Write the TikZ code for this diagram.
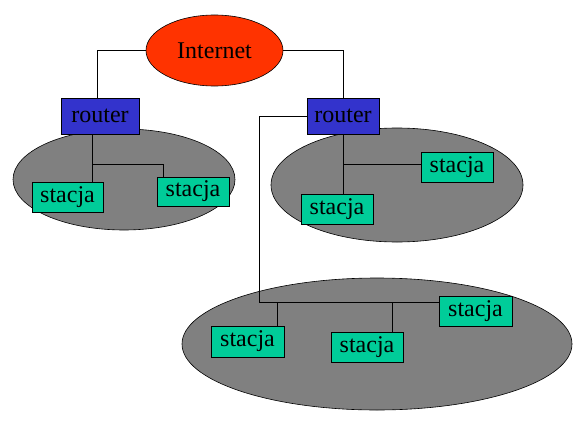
\documentclass[tikz,border=0pt]{standalone}
\usepackage{fontspec}
\setmainfont{Liberation Serif}
\usetikzlibrary{shapes.geometric,calc}
\definecolor{inetred}{HTML}{FF3300}
\definecolor{routerblue}{HTML}{3333CC}
\definecolor{stgreen}{HTML}{00CC99}
\definecolor{lanGray}{HTML}{808080}
\tikzset{
  lan/.style={draw=black,fill=lanGray,ellipse,inner sep=0pt,line width=0.6pt},
  inet/.style={draw=black,fill=inetred,ellipse,inner sep=0pt,minimum width=137pt,minimum height=71pt,line width=0.6pt,font=\fontsize{24}{28}\selectfont},
  routerbox/.style={draw=black,fill=routerblue,inner sep=0pt,minimum height=36pt,line width=0.6pt,font=\fontsize{24}{28}\selectfont},
  stbox/.style={draw=black,fill=stgreen,inner sep=0pt,minimum width=72pt,minimum height=30pt,line width=0.6pt,font=\fontsize{24}{28}\selectfont},
  wire/.style={draw=black,line width=0.9pt}
}
\begin{document}
\begin{tikzpicture}[x=1pt,y=-1pt]
\useasboundingbox (0,0) rectangle (583,420);
% LAN ellipses
\node[lan,minimum width=222pt,minimum height=101pt] (lanA) at (124,179.5) {};
\node[lan,minimum width=252pt,minimum height=114pt] (lanB) at (397,185) {};
\node[lan,minimum width=390pt,minimum height=132pt] (lanC) at (377,344) {};
% Internet
\node[inet] (inet) at (214.5,50.5) {Internet};
% routers
\node[routerbox,minimum width=78pt] (r1) at (100,116) {router};
\node[routerbox,minimum width=72pt] (r2) at (343,116) {router};
% stations
\node[stbox,minimum width=71pt] (s1) at (67.5,197) {stacja};
\node[stbox,minimum height=29pt] (s2) at (193,191.5) {stacja};
\node[stbox] (s3) at (457,167) {stacja};
\node[stbox] (s4) at (337,209) {stacja};
\node[stbox,minimum width=73pt,minimum height=31pt] (s5) at (247.5,341.5) {stacja};
\node[stbox] (s6) at (367,347) {stacja};
\node[stbox,minimum width=73pt] (s7) at (475.5,311) {stacja};
% junctions
\coordinate (ja) at (92,164);
\coordinate (jb) at (163,164);
\coordinate (jc) at (343,164);
\coordinate (jd) at (259,302);
\coordinate (je) at (277,302);
\coordinate (jf) at (392,302);
% wires
\draw[wire] (inet.west) -| ([xshift=-3pt]r1.north);
\draw[wire] (inet.east) -| (r2.north);
\draw[wire] (ja |- r1.south) -- (ja |- s1.north);
\draw[wire] (ja) -- (jb) -- (jb |- s2.north);
\draw[wire] (r2.south) -- (jc |- s4.north);
\draw[wire] (jc) -- (jc -| s3.west);
\draw[wire] (r2.west) -| (jd) -- (jd -| s7.west);
\draw[wire] (je) -- (je |- s5.north);
\draw[wire] (jf) -- (jf |- s6.north);
\end{tikzpicture}
\end{document}
